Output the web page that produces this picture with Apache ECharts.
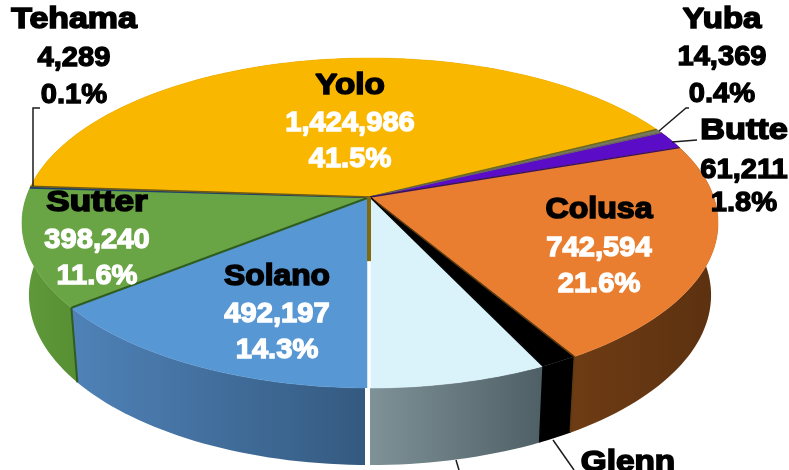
<!DOCTYPE html>
<html>
<head>
<meta charset="utf-8">
<style>html,body{margin:0;padding:0;background:#fff}#c{width:789px;height:470px}</style>
<script src="https://cdn.jsdelivr.net/npm/echarts@6/dist/echarts.min.js"></script>
</head>
<body>
<div id="c"></div>
<script>
// Data, clockwise from 6 o'clock
const names   = ['Solano','Sutter','Tehama','Yolo','Yuba','Butte','Colusa','Glenn',''];
const values  = [492197,398240,4289,1424986,14369,61211,742594,51000,244000];
const percent = ['14.3%','11.6%','0.1%','41.5%','0.4%','1.8%','21.6%','1.5%','7.1%'];

// Styles
const topColors  = ['#5797D3','#69A544','#1F3F6B','#FAB700','#77785F','#5A0CC6','#E97E30','#000000','#DAF3FB'];
const wallLeft   = ['#4F82B8','#5F9A3A','#1F3F6B','#A87A00','#555555','#3A0A80','#6E3C14','#000000','#7F9298'];
const wallRight  = ['#34597F','#578F33','#1F3F6B','#A87A00','#555555','#3A0A80','#5C3110','#000000','#4E6066'];
const seamColors = [null,'#2F5C20','#1F3F6B','#6E5A12','#6B6A20','#6B6A50','#3A1458','#5E3A10','#000000'];
const seamWidths = [0,2,2.5,1.5,1.5,1,1.5,1.5,1.5];

// Label layout: [x, first line y, second line y, third line y, second/third colour, name stretch]
const labelLayout = [
  [277,277,314,350,'#fff',1.06],[97,203,240,276,'#fff',1.17],[74,20,58,95,'#000',1.13],[350,86,123,159,'#fff',1.11],
  [722,20,57,94,'#000',1.10],[744,131,170,203,'#000',1.14],[599,210,248,284,'#fff',1.07],[628,463,null,null,'#000',1.11],null
];
const leaders = [
  [[33,186],[33,108],[40,108]],
  [[659,131],[686,108],[689,108]],
  [[672,142],[697,140]],
  [[553,440],[574,470]],
  [[456,460],[459,470]]
];

// Perspective disc
const CX=370, CY=197, A=343.7, B=160.9, K=0.1576;
const SX=0.98, TY=1.03, CY2=65.4;
function proj(u,v){const d=1-K*v;return [CX+A*u/d, CY+B*v/d];}
function bottom(p){return [CX+(p[0]-CX)*SX, p[1]*TY+CY2];}
function rim(f){const t=f*2*Math.PI;return proj(-Math.sin(t),Math.cos(t));}

const total = values.reduce((a,b)=>a+b,0);
let acc=0;
const spans = values.map(v=>{const s=acc/total;acc+=v;return [s,acc/total];});
const dataRows = spans.map((s,i)=>[s[0],s[1],i]);

function rimPts(f0,f1){
  const n=Math.max(2,Math.ceil((f1-f0)*240));const pts=[];
  for(let k=0;k<=n;k++)pts.push(rim(f0+(f1-f0)*k/n));
  return pts;
}
function renderWall(params,api){
  const f0=api.value(0),f1=api.value(1),i=api.value(2);
  const r=rimPts(f0,f1);
  const pts=r.concat(r.slice().reverse().map(bottom));
  return {type:'polygon',shape:{points:pts},style:{
    fill:{type:'linear',x:0,y:0,x2:1,y2:0,colorStops:[{offset:0,color:wallLeft[i]},{offset:1,color:wallRight[i]}]},
    stroke:null}};
}
function renderTop(params,api){
  const f0=api.value(0),f1=api.value(1),i=api.value(2);
  const r=rimPts(f0,f1);
  const kids=[{type:'polygon',shape:{points:[[CX,CY]].concat(r)},style:{fill:topColors[i],stroke:topColors[i],lineWidth:0.5}}];
  if(seamColors[i]){
    const e=rim(f0);
    kids.push({type:'line',shape:{x1:CX,y1:CY,x2:e[0],y2:e[1]},style:{stroke:seamColors[i],lineWidth:seamWidths[i]}});
    const b=bottom(e);
    if(e[1]>CY+40)kids.push({type:'line',shape:{x1:e[0],y1:e[1],x2:b[0],y2:b[1]},style:{stroke:seamColors[i],lineWidth:seamWidths[i]}});
  }
  return {type:'group',children:kids};
}
function renderGap(params,api){
  // white gap and olive core between the last slice and Solano
  const c=proj(0,0), m=proj(0,0.375), e=proj(0,1), b=bottom(e);
  return {type:'group',children:[
    {type:'line',shape:{x1:c[0]-1,y1:c[1],x2:e[0]-1,y2:e[1]},style:{stroke:'#fff',lineWidth:3.5}},
    {type:'line',shape:{x1:b[0]-2.5,y1:e[1],x2:b[0]-2.5,y2:b[1]+1},style:{stroke:'#fff',lineWidth:5}},
    {type:'line',shape:{x1:c[0]-1,y1:c[1],x2:m[0]-1,y2:m[1]},style:{stroke:'#806A10',lineWidth:4}}
  ]};
}

const FONT='"Liberation Sans", Arial, sans-serif';
function txt(s,x,y,color,size,weight,stretch){
  return {type:'text',z:20,x:x,y:y,scaleX:stretch,silent:true,style:{text:s,fill:color,font:'bold '+size+'px '+FONT,
    textAlign:'center',textVerticalAlign:'middle',stroke:color,lineWidth:weight}};
}
const graphics=[];
leaders.forEach(l=>graphics.push({type:'polyline',z:15,shape:{points:l},style:{stroke:'#1c1c1c',lineWidth:1.5,fill:null}}));
labelLayout.forEach((L,i)=>{
  if(!L)return;
  graphics.push(txt(names[i],L[0],L[1],'#000',30,1.6,L[5]));
  if(L[2]!==null){
    graphics.push(txt(values[i].toLocaleString('en-US'),L[0],L[2],L[4],28,1.3,1.04));
    graphics.push(txt(percent[i],L[0],L[3],L[4],28,1.3,1.04));
  }
});

const chart=echarts.init(document.getElementById('c'),null,{renderer:'canvas'});
chart.setOption({
  animation:false,
  backgroundColor:'#fff',
  graphic:{elements:graphics},
  series:[
    {type:'custom',coordinateSystem:'none',z:1,silent:true,data:dataRows,renderItem:renderWall},
    {type:'custom',coordinateSystem:'none',z:2,silent:true,data:dataRows,renderItem:renderTop},
    {type:'custom',coordinateSystem:'none',z:3,silent:true,data:[[0]],renderItem:renderGap}
  ]
});
</script>
</body>
</html>
